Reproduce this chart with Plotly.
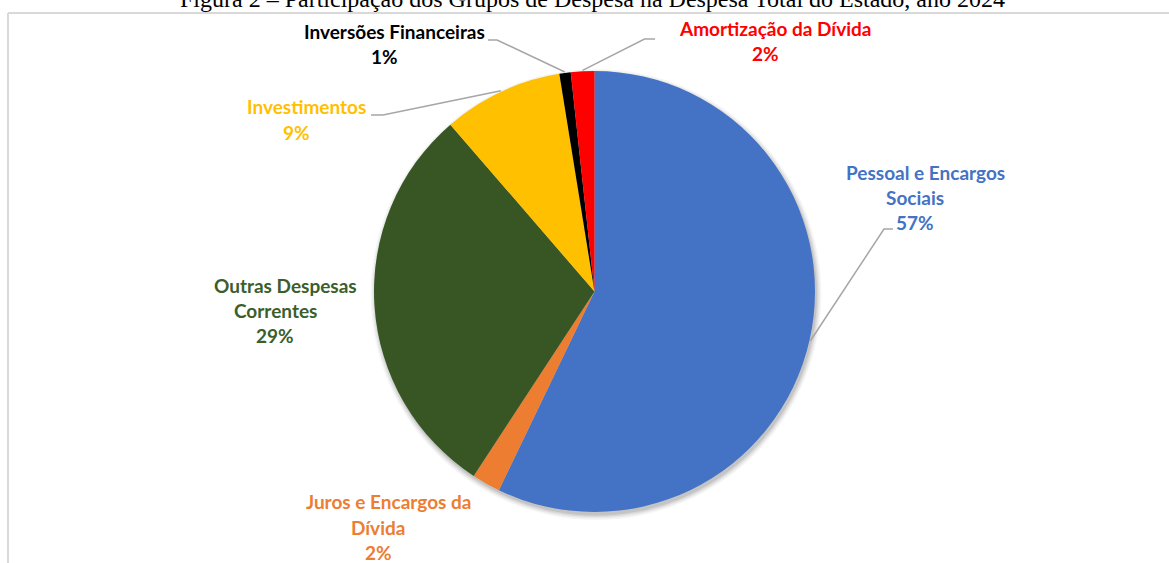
import math
import plotly.graph_objects as go

# ---------------- data ----------------
categories = [
    "Pessoal e Encargos\nSociais",
    "Juros e Encargos da\nDívida",
    "Outras Despesas\nCorrentes",
    "Investimentos",
    "Inversões Financeiras",
    "Amortização da Dívida",
]
values = [57.14, 2.09, 29.43, 8.79, 0.83, 1.72]
slice_colors = ["#4472C4", "#ED7D31", "#375623", "#FFC000", "#000000", "#FF0000"]
label_colors = ["#4472C4", "#ED7D31", "#3B5E2B", "#FFC000", "#000000", "#FF0000"]
title_text = "Figura 2 – Participação dos Grupos de Despesa na Despesa Total do Estado, ano 2024"

# ---------------- layout helpers (pixels) ----------------
W, H = 1169, 563
CX, CY, R = 594.5, 291.5, 220.5


def X(px):
    return px / W


def Y(py):
    return 1 - py / H


# label block anchors: (center x of lines, center y of first line)
label_pos = [(915.5, 172), (378, 502), (275, 285), (296, 107), (384, 32), (765, 29)]
LINE_STEP = 25
FIRST_LINE_SHIFT = 10
LABEL_SIZE = 19

# leader lines: slice index -> [elbow point, end point] (pixels)
leaders = {
    0: [(884, 229), (893, 229)],
    3: [(383, 115), (371, 115)],
    4: [(497, 40), (488, 40)],
    5: [(644.5, 39), (655, 39)],
}

fig = go.Figure()

# soft shadow layers behind the pie
total = sum(values)
for k, (grow, alpha) in enumerate([(5, 0.035), (3.5, 0.05), (2, 0.07), (0.5, 0.09)]):
    r = R + grow
    cx, cy = CX + 1.5, CY + 3
    fig.add_trace(go.Pie(
        values=[total], labels=["shadow%d" % k], sort=False,
        marker=dict(colors=["rgba(0,0,0,%g)" % alpha], line=dict(width=0)),
        textinfo="none", hoverinfo="skip", showlegend=False,
        domain=dict(x=[X(cx - r), X(cx + r)], y=[Y(cy + r), Y(cy - r)]),
    ))

fig.add_trace(go.Pie(
    values=values,
    labels=[c.replace("\n", " ") for c in categories],
    sort=False,
    direction="clockwise",
    rotation=0,
    marker=dict(colors=slice_colors, line=dict(width=0)),
    textinfo="none",
    hoverinfo="label+percent",
    showlegend=False,
    domain=dict(x=[X(CX - R), X(CX + R)], y=[Y(CY + R), Y(CY - R)]),
))

annotations = []
shapes = []

# title (partially cut off at the top, as in the reference)
annotations.append(dict(
    text=title_text, x=X(592.5), y=Y(14), xref="paper", yref="paper",
    xanchor="center", yanchor="bottom", showarrow=False,
    font=dict(family="Liberation Serif, Times New Roman, serif", size=24, color="#000000"),
))

# data labels
pcts = [round(100 * v / total) for v in values]
for i, cat in enumerate(categories):
    lines = cat.split("\n") + ["%d%%" % pcts[i]]
    lx, ly = label_pos[i]
    for j, line in enumerate(lines):
        annotations.append(dict(
            text=line,
            x=X(lx + (FIRST_LINE_SHIFT if j == 0 else 0)),
            y=Y(ly + j * LINE_STEP),
            xref="paper", yref="paper", xanchor="center", yanchor="middle",
            showarrow=False,
            font=dict(family="Lato, Calibri, sans-serif", size=LABEL_SIZE,
                      color=label_colors[i], weight="bold"),
        ))

# leader lines start on the slice's mid-angle at the pie edge
cum = 0
mids = []
for v in values:
    mids.append((cum + v / 2) / total)
    cum += v
for i, pts in leaders.items():
    ang = 2 * math.pi * mids[i]
    sx = CX + (R + 1) * math.sin(ang)
    sy = CY - (R + 1) * math.cos(ang)
    path_pts = [(sx, sy)] + pts
    path = "M " + " L ".join("%.5f,%.5f" % (X(px), Y(py)) for px, py in path_pts)
    shapes.append(dict(type="path", path=path, xref="paper", yref="paper",
                       line=dict(color="#A6A6A6", width=1.5)))

# chart-area border (top and left edges visible)
shapes.append(dict(type="line", xref="paper", yref="paper",
                   x0=X(8), x1=X(W + 5), y0=Y(13), y1=Y(13),
                   line=dict(color="#D9D9D9", width=2)))
shapes.append(dict(type="line", xref="paper", yref="paper",
                   x0=X(8), x1=X(8), y0=Y(13), y1=Y(H + 5),
                   line=dict(color="#D9D9D9", width=2)))

fig.update_layout(
    width=W, height=H,
    margin=dict(l=0, r=0, t=0, b=0),
    paper_bgcolor="white", plot_bgcolor="white",
    annotations=annotations, shapes=shapes,
    showlegend=False,
)

fig.write_html("out.html", config={"displayModeBar": False},
               post_script="document.body.style.margin='0';")
